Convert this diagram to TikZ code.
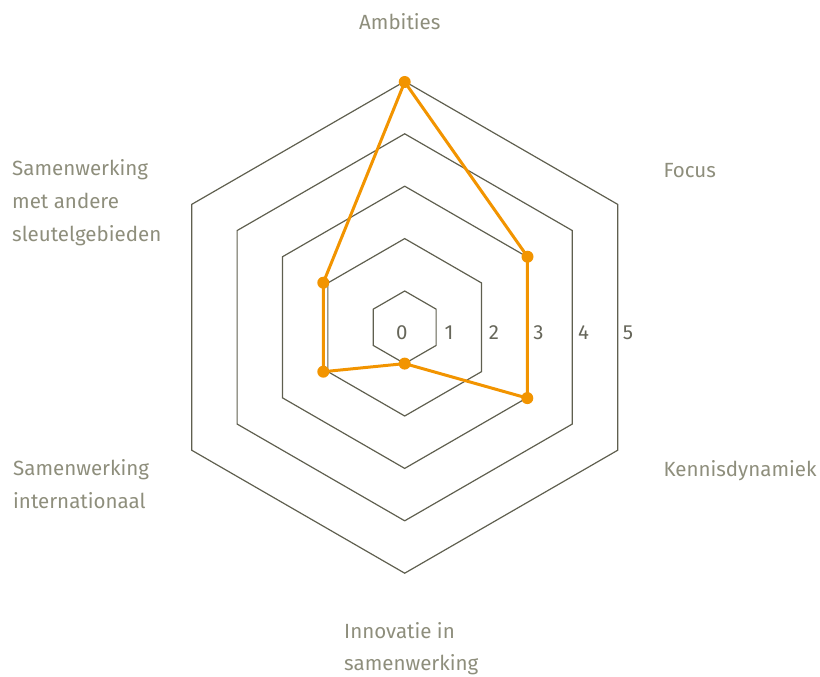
\documentclass[tikz,border=0pt]{standalone}
\usepackage{fontspec}
\setmainfont{Fira Sans}
\definecolor{gridc}{HTML}{5F5F4F}
\definecolor{lblc}{HTML}{8E8E7C}
\definecolor{numc}{HTML}{66665A}
\definecolor{datac}{HTML}{F29400}
\begin{document}
\begin{tikzpicture}[x=1bp,y=-1bp,
  gridline/.style={draw=gridc,line width=1.2bp,line join=miter},
  dataline/.style={draw=datac,line width=3bp,line join=round},
  datadot/.style={fill=datac},
  axislabel/.style={text=lblc,inner sep=0pt,anchor=base west,align=left,font=\fontsize{20.6}{33}\selectfont},
  numlabel/.style={text=numc,inner sep=0pt,anchor=center,font=\fontsize{20.5}{22}\selectfont}]
\useasboundingbox (0,0) rectangle (820,677);
\def\cx{404.7}\def\cy{327.3}
\foreach \r in {36.3,88.7,141.1,193.5,245.9}{
  \draw[gridline] ({\cx},{\cy-\r}) -- ({\cx+0.866*\r},{\cy-0.5*\r}) -- ({\cx+0.866*\r},{\cy+0.5*\r})
     -- ({\cx},{\cy+\r}) -- ({\cx-0.866*\r},{\cy+0.5*\r}) -- ({\cx-0.866*\r},{\cy-0.5*\r}) -- cycle;
}
% scale labels
\node[numlabel] (n0) at (401.7,332.5) {0};
\node[numlabel] (n1) at (449,332.5) {1};
\node[numlabel] (n2) at (494,332.5) {2};
\node[numlabel] (n3) at (538.5,332.5) {3};
\node[numlabel] (n4) at (583.5,332.5) {4};
\node[numlabel] (n5) at (628,332.5) {5};
% data
\coordinate (pA) at (404.7,82);
\coordinate (pF) at (527.5,256.7);
\coordinate (pK) at (527.3,398.1);
\coordinate (pI) at (404.7,363.6);
\coordinate (pSI) at (323.3,371.7);
\coordinate (pSA) at (323.3,282.7);
\draw[dataline] (pA) -- (pF) -- (pK) -- (pI) -- (pSI) -- (pSA) -- cycle;
\foreach \p in {pA,pF,pK,pI,pSI,pSA} \fill[datadot] (\p) circle (6);
% axis labels (base = last line)
\node[axislabel] (lA) at (359,29.3) {Ambities};
\node[axislabel] (lF) at (663.3,177.7) {Focus};
\node[axislabel] (lK) at (663.3,476.7) {Kennisdynamiek};
\node[axislabel,font=\fontsize{20.6}{32}\selectfont] (lI) at (344,670) {Innovatie in\\samenwerking};
\node[axislabel] (lSI) at (13,508) {Samenwerking\\internationaal};
\node[axislabel] (lSA) at (12,241.7) {Samenwerking\\met andere\\sleutelgebieden};
\end{tikzpicture}
\end{document}
